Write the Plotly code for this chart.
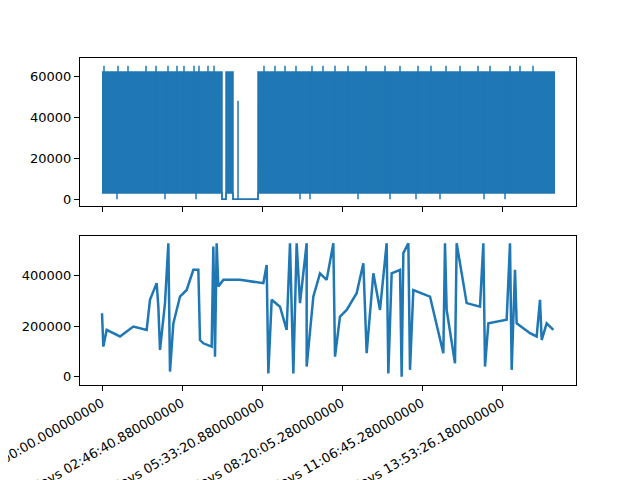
import plotly.graph_objects as go
from plotly.subplots import make_subplots

# --- top series: dense band (envelope) + spikes, time in seconds ---
band_t = [0, 15000, 15001, 15500, 15501, 16375, 16376, 17000, 17001, 17002, 19500, 19501, 56625]
band_hi = [62000, 62000, 0, 0, 62000, 62000, 0, 0, 48000, 0, 0, 62000, 62000]
band_lo = [3000, 3000, 0, 0, 3000, 3000, 0, 0, 0, 0, 0, 3000, 3000]
spike_hi_t = [250, 2000, 3250, 5500, 6750, 8250, 9375, 10250, 11500, 12125, 13250, 14000,
              20250, 21625, 22875, 24250, 26250, 27625, 29125, 30750, 33000, 35375, 37250,
              39500, 41125, 43000, 44750, 47000, 48500, 51000, 52250, 53875]
spike_lo_t = [1875, 7875, 11750, 24750, 26000, 32000, 36000, 39250, 42250, 47750, 50375]

# --- bottom series ---
t2 = [0, 167, 583, 2250, 3917, 5583, 6000, 6833, 7042, 7250, 7875, 8292, 8500, 8917, 9750,
      10583, 11417, 12042, 12250, 12667, 13708, 13917, 14125, 14333, 14542, 15167, 17250,
      20167, 20583, 20792, 21208, 22250, 23083, 23500, 23917, 24333, 24750, 25583, 25584,
      26417, 27250, 28083, 28917, 29125, 29750, 30583, 31833, 32667, 33083, 33917, 34750,
      35583, 35792, 36208, 37250, 37458, 37667, 38292, 38500, 38917, 41000, 42667, 42875,
      43083, 44125, 44333, 45583, 47250, 47667, 47875, 48292, 50583, 51000, 51208, 51625,
      51833, 53500, 54333, 54750, 54958, 55583, 56417]
v2 = [252, 120, 186, 160, 199, 186, 305, 371, 278, 107, 292, 529, 21, 212, 318,
      344, 424, 424, 146, 133, 120, 516, 80, 529, 358, 384, 384,
      371, 443, 14, 305, 278, 186, 529, 14, 529, 292, 529, 41,
      318, 410, 384, 529, 80, 239, 265, 331, 450, 94, 410, 265,
      529, 14, 410, 424, 1, 490, 529, 28, 344, 318, 94, 529,
      265, 54, 529, 292, 278, 529, 41, 212, 226, 529, 28, 424,
      212, 173, 160, 305, 146, 212, 186]
v2 = [v * 1000 for v in v2]

tick_vals = [0, 10000.88, 20000.88, 30005.28, 40005.28, 50006.18]
tick_text = ['0 days 00:00:00.000000000', '0 days 02:46:40.880000000',
             '0 days 05:33:20.880000000', '0 days 08:20:05.280000000',
             '0 days 11:06:45.280000000', '0 days 13:53:26.180000000']

blue = '#1f77b4'

fig = make_subplots(rows=2, cols=1, vertical_spacing=0.09)

fig.add_trace(go.Scatter(x=band_t, y=band_lo, mode='lines', line=dict(color=blue, width=1.5)), row=1, col=1)
fig.add_trace(go.Scatter(x=band_t, y=band_hi, mode='lines', fill='tonexty', fillcolor=blue,
                         line=dict(color=blue, width=1.5)), row=1, col=1)

sx, sy = [], []
for t in spike_hi_t:
    sx += [t, t, None]
    sy += [3000, 65000, None]
for t in spike_lo_t:
    sx += [t, t, None]
    sy += [0, 62000, None]
fig.add_trace(go.Scatter(x=sx, y=sy, mode='lines', line=dict(color=blue, width=1.5)), row=1, col=1)

fig.add_trace(go.Scatter(x=t2, y=v2, mode='lines', line=dict(color=blue, width=2.5)), row=2, col=1)

axis_style = dict(showgrid=False, zeroline=False, showline=True, linecolor='black', mirror=True,
                  ticks='outside', ticklen=5, tickcolor='black', automargin=False)
fig.update_xaxes(range=[-2750, 59250], tickvals=tick_vals, ticktext=tick_text, tickangle=-30,
                 ticklabeloverflow='allow', **axis_style)
fig.update_xaxes(showticklabels=False, row=1, col=1)
fig.update_yaxes(tickformat='d', **axis_style)
fig.update_yaxes(range=[-3400, 68800], tickvals=[0, 20000, 40000, 60000], domain=[0.547, 1], row=1, col=1)
fig.update_yaxes(range=[-32000, 558000], tickvals=[0, 200000, 400000], domain=[0, 0.456], row=2, col=1)

fig.update_layout(
    width=640, height=480,
    margin=dict(l=72, r=72, t=50, b=103),
    showlegend=False,
    plot_bgcolor='white',
    paper_bgcolor='white',
    font=dict(family='DejaVu Sans', size=13, color='black'),
)

fig.write_html("out.html")
